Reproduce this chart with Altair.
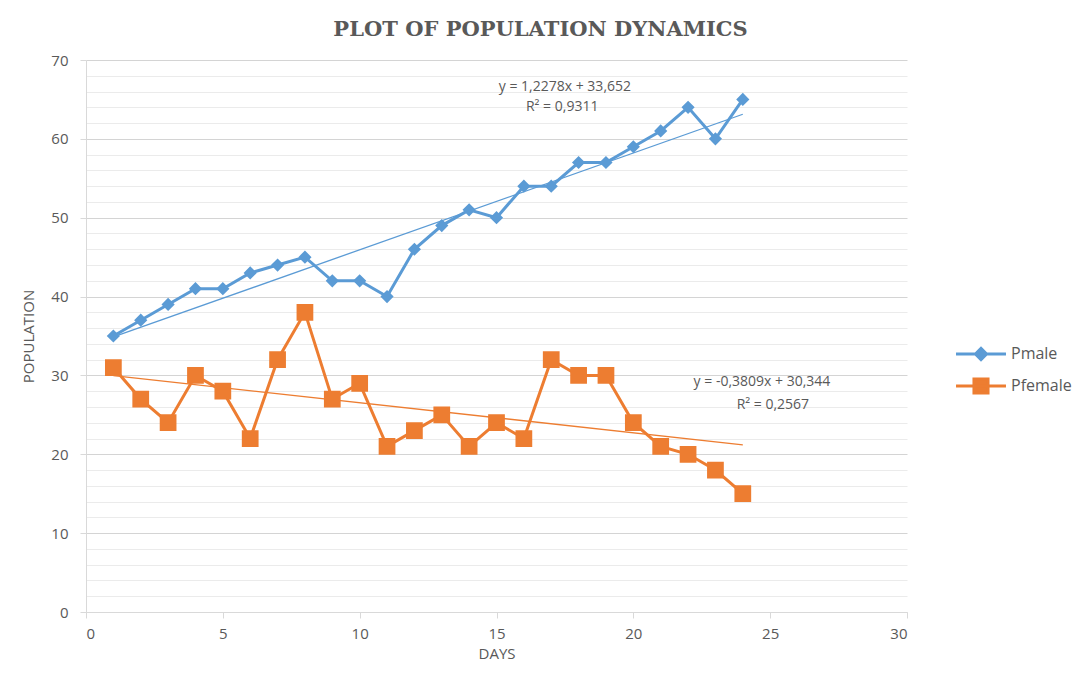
import altair as alt
import pandas as pd

days = list(range(1, 25))
pmale = [35, 37, 39, 41, 41, 43, 44, 45, 42, 42, 40, 46, 49, 51, 50, 54, 54, 57, 57, 59, 61, 64, 60, 65]
pfemale = [31, 27, 24, 30, 28, 22, 32, 38, 27, 29, 21, 23, 25, 21, 24, 22, 32, 30, 30, 24, 21, 20, 18, 15]
series_names = ["Pmale", "Pfemale"]
series_colors = ["#5B9BD5", "#ED7D31"]

# annotation labels (trendline equations)
ann_text = ["y = 1,2278x + 33,652", "R² = 0,9311", "y = -0,3809x + 30,344", "R² = 0,2567"]
ann_x = [17.5, 17.4, 24.7, 25.1]
ann_y = [66.6, 64.0, 29.2, 26.3]

rows = []
for d, m, f in zip(days, pmale, pfemale):
    rows.append({"day": d, "value": m, "series": "Pmale"})
    rows.append({"day": d, "value": f, "series": "Pfemale"})
df = pd.DataFrame(rows)
ann = pd.DataFrame({"text": ann_text, "day": ann_x, "value": ann_y})

# legend/marker symbols: line + marker (custom SVG paths)
diamond = "M-1.35,0H1.35M-0.3,0L0,-0.3L0.3,0L0,0.3Z"
square = "M-1.35,0H1.35M-0.38,-0.38H0.38V0.38H-0.38Z"

FONT = "Open Sans"
GREY = "#595959"

xscale = alt.Scale(domain=[0, 30], nice=False, zero=True)
yscale = alt.Scale(domain=[0, 70], nice=False)
cscale = alt.Scale(domain=series_names, range=series_colors)

x_axis = alt.Axis(values=[0, 5, 10, 15, 20, 25, 30], grid=False, labelOverlap=False,
                  domainColor="#d9d9d9", tickColor="#d9d9d9", tickSize=6,
                  labelPadding=8, titlePadding=5)
y_axis = alt.Axis(values=list(range(0, 71, 2)), labelOverlap=False,
                  labelExpr="datum.value % 10 === 0 ? datum.label : ''",
                  gridColor={"condition": {"test": "datum.value % 10 === 0", "value": "#d4d4d4"}, "value": "#ebebeb"},
                  tickOpacity={"condition": {"test": "datum.value % 10 === 0", "value": 1}, "value": 0},
                  domainColor="#d9d9d9", tickColor="#d9d9d9", tickSize=6,
                  labelPadding=12, titlePadding=14)

x_enc = alt.X("day:Q", scale=xscale, title="DAYS", axis=x_axis)
y_enc = alt.Y("value:Q", scale=yscale, title="POPULATION", axis=y_axis)

base = alt.Chart(df)

lines = base.mark_line(strokeWidth=3).encode(
    x=x_enc, y=y_enc,
    color=alt.Color("series:N", scale=cscale, legend=None),
    detail="series:N",
)

trend = base.transform_regression("day", "value", groupby=["series"]).mark_line(strokeWidth=1.3).encode(
    x=x_enc, y=y_enc,
    color=alt.Color("series:N", scale=cscale, legend=None),
)

legend = alt.Legend(orient="none", legendX=875, legendY=274, title=None,
                    symbolSize=1369, symbolStrokeWidth=3, labelOffset=10,
                    labelFontSize=16, labelColor=GREY, labelFont=FONT,
                    rowPadding=0, symbolOpacity=1)

points = base.mark_point(filled=True, opacity=1, strokeWidth=0, size=1940).encode(
    x=x_enc, y=y_enc,
    fill=alt.Fill("series:N", scale=cscale, title=None, legend=legend),
    stroke=alt.Stroke("series:N", scale=cscale, title=None, legend=legend),
    shape=alt.Shape("series:N", scale=alt.Scale(domain=series_names, range=[diamond, square]),
                    title=None, legend=legend),
)

texts = alt.Chart(ann).mark_text(fontSize=14, color=GREY, font=FONT).encode(
    x=x_enc, y=y_enc, text="text:N"
)

chart = alt.layer(lines, trend, points, texts).resolve_legend(color="independent").properties(
    width=821, height=552,
    autosize=alt.AutoSizeParams(type="none"),
    padding={"left": 78, "top": 52, "right": 170, "bottom": 54},
    title=alt.TitleParams("PLOT OF POPULATION DYNAMICS", font="DejaVu Serif", fontSize=21,
                          fontWeight="bold", color=GREY, anchor="middle", dx=44, offset=13),
).configure_view(stroke=None).configure_axis(
    labelFont=FONT, labelFontSize=15, labelColor=GREY,
    titleFont=FONT, titleFontSize=15, titleColor=GREY, titleFontWeight="normal",
)

chart.save("out.html", embed_options={"renderer": "svg", "actions": False})
